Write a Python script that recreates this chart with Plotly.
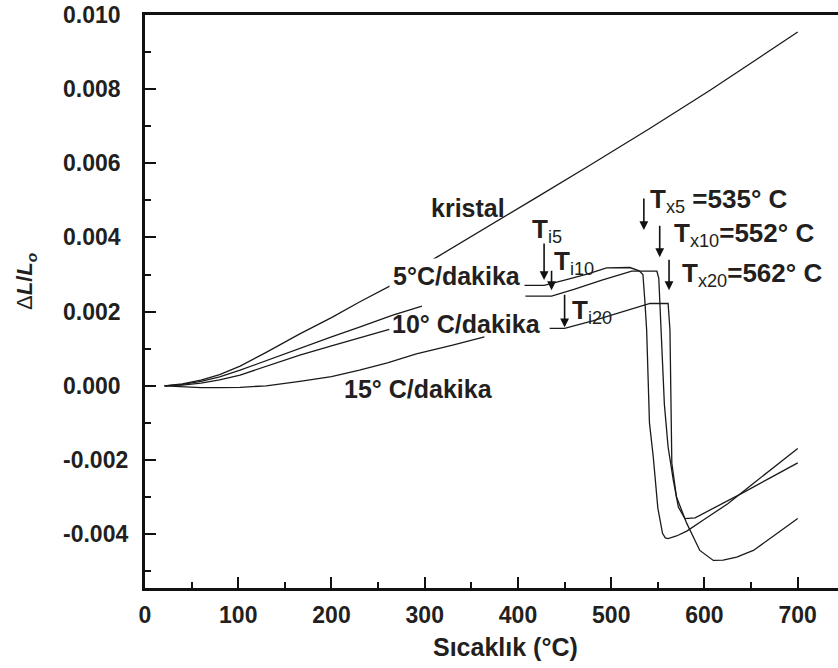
import plotly.graph_objects as go

# Dilatometer traces: relative length change vs temperature
kristal_T = [21, 40, 60, 80, 102, 130, 166, 200, 230, 265, 313, 370, 420, 474, 540, 606, 650, 700]
kristal_dL = [0.0, 0.00005, 0.00015, 0.0003, 0.00053, 0.0009, 0.00140, 0.00184, 0.00226, 0.00272,
              0.00347, 0.00432, 0.00508, 0.00590, 0.00692, 0.00797, 0.00870, 0.00954]

r5_T = [21, 40, 60, 80, 102, 130, 166, 200, 230, 265, 297, None,
        406, 428, 450, 475, 495, 520, 530, 534, 536, 538, 541, 545, 550, 555, 558, 561,
        570, 581, 600, 625, 650, 675, 700]
r5_dL = [0.0, 0.00004, 0.00012, 0.00024, 0.00042, 0.00068, 0.00102, 0.00132, 0.00158, 0.00190, 0.00215, None,
         0.00271, 0.00271, 0.00285, 0.00302, 0.00318, 0.00319, 0.00310, 0.00300, 0.00231, 0.00150, -0.0010,
         -0.00190, -0.00330, -0.00398, -0.00410, -0.00412,
         -0.00405, -0.00392, -0.00360, -0.00318, -0.00268, -0.00218, -0.00169]

r10_T = [21, 40, 60, 80, 102, 130, 166, 200, 230, 262, None,
         408, 436, 460, 490, 522, 549, 551, 553.5, 557, 561, 566.6, 572, 579, 590,
         610, 640, 670, 700]
r10_dL = [0.0, 0.00002, 0.00007, 0.00016, 0.00029, 0.00052, 0.00083, 0.00108, 0.00130, 0.00152, None,
          0.00242, 0.00242, 0.00260, 0.00285, 0.00309, 0.00309, 0.00290, 0.00150, -0.0005, -0.00165,
          -0.00255, -0.00327, -0.00358, -0.00356,
          -0.00330, -0.00290, -0.00249, -0.00208]

r15_T = [21, 40, 60, 80, 102, 130, 150, 166, 200, 230, 260, 291, 330, 364, None,
         434, 450, 480, 510, 541.6, 561, 563, 565, 570, 581, 595, 609.5, 620, 634.6, 652.4,
         670.3, 700]
r15_dL = [0.0, -0.00003, -0.00005, -0.00005, -0.00004, 0.0, 0.00006, 0.00012, 0.00025, 0.00042,
          0.00062, 0.00086, 0.00110, 0.00132, None,
          0.00155, 0.00155, 0.00175, 0.00198, 0.00222, 0.00222, 0.00150, -0.00209, -0.0030,
          -0.00371, -0.00444, -0.00471, -0.00470, -0.00462, -0.00444, -0.00412, -0.00358]

# Onset (Ti) and crystallisation (Tx) markers
ti_T = [428, 436, 450]
ti_tip = [0.00285, 0.00258, 0.00158]
ti_len = [-38, -21, -34]
tx_T = [535, 552, 562]
tx_tip = [0.00420, 0.00347, 0.00258]
tx_len = [-33, -33, -32]

y_ticks = [0.010, 0.008, 0.006, 0.004, 0.002, 0.000, -0.002, -0.004]
x_ticks = [0, 100, 200, 300, 400, 500, 600, 700]

FONT = "Arial, Liberation Sans, sans-serif"
INK = "#231f20"

fig = go.Figure()
for T, d in [(kristal_T, kristal_dL), (r5_T, r5_dL), (r10_T, r10_dL), (r15_T, r15_dL)]:
    fig.add_trace(go.Scatter(x=T, y=d, mode="lines", connectgaps=False,
                             line=dict(color="#1a1a1a", width=1.3), showlegend=False,
                             hoverinfo="skip"))

ann = []

# Curve labels
def label(text, x, y, bg=None):
    a = dict(text=f"<b>{text}</b>", x=x, y=y, xref="x", yref="y", showarrow=False,
             font=dict(family=FONT, size=25, color=INK), xanchor="center", yanchor="middle")
    if bg:
        a.update(bgcolor=bg, borderpad=3)
    return a

ann.append(label("kristal", 346, 0.00479))
ann.append(label("5°C/dakika", 335, 0.00295, bg="white"))
ann.append(label("10° C/dakika", 345, 0.00168))
ann.append(label("15° C/dakika", 293, -0.00009))

# Arrows
for T, tip, ln in zip(ti_T + tx_T, ti_tip + tx_tip, ti_len + tx_len):
    ann.append(dict(x=T, y=tip, xref="x", yref="y", text="", showarrow=True, ax=0, ay=ln,
                    arrowhead=2, arrowsize=1.1, arrowwidth=1.6, arrowcolor="#111"))

def tlabel(sub, rest, x, y):
    return dict(text=f"<b>T</b><sub>{sub}</sub>" + (f"<b>{rest}</b>" if rest else ""),
                x=x, y=y, xref="x", yref="y", showarrow=False, xanchor="left", yanchor="middle",
                font=dict(family=FONT, size=26, color=INK))

ann.append(tlabel("x5", " =535° C", 539.5, 0.00500))
ann.append(tlabel("x10", "=552° C", 565, 0.00408))
ann.append(tlabel("x20", "=562° C", 574, 0.00300))
ann.append(tlabel("i5", "", 413, 0.00418))
ann.append(tlabel("i10", "", 437, 0.00332))
ann.append(tlabel("i20", "", 456, 0.00200))

# y tick labels, left aligned
for v in y_ticks:
    ann.append(dict(text=f"<b>{v:.3f}</b>", x=-0.1212, y=v, xref="paper", yref="y",
                    showarrow=False, xanchor="left", yanchor="middle",
                    font=dict(family=FONT, size=23, color=INK)))

# Axis titles
ann.append(dict(text="Δ<b><i>L</i>/<i>L</i><sub><i>o</i></sub></b>", x=-0.1717, y=0.0028,
                xref="paper", yref="y", showarrow=False, textangle=-90,
                xanchor="center", yanchor="middle", font=dict(family=FONT, size=22, color=INK)))
ann.append(dict(text="<b>Sıcaklık (°C)</b>", x=387, y=-0.1035, xref="x", yref="paper",
                showarrow=False, xanchor="center", yanchor="middle",
                font=dict(family=FONT, size=25, color=INK)))

fig.update_layout(
    width=838, height=668,
    margin=dict(l=145, r=0, t=15, b=80),
    paper_bgcolor="white", plot_bgcolor="white",
    annotations=ann,
    xaxis=dict(range=[0, 743.2], tickvals=x_ticks, ticktext=[f"<b>{v}</b>" for v in x_ticks],
               showgrid=False, zeroline=False, showline=True, linecolor="#111", linewidth=2.5,
               mirror=True, ticks="inside", ticklen=11, tickwidth=2, tickcolor="#111",
               minor=dict(tickvals=[50, 150, 250, 350, 450, 550, 650], ticks="inside", ticklen=6,
                          tickwidth=2, tickcolor="#111"),
               tickfont=dict(family=FONT, size=23, color=INK), ticklabelstandoff=5),
    yaxis=dict(range=[-0.005453, 0.010], tickvals=y_ticks, showticklabels=False,
               showgrid=False, zeroline=False, showline=True, linecolor="#111", linewidth=2.5,
               ticks="inside", ticklen=11, tickwidth=2, tickcolor="#111",
               minor=dict(tickvals=[0.009, 0.007, 0.005, 0.003, 0.001, -0.001, -0.003, -0.005],
                          ticks="inside", ticklen=6, tickwidth=2, tickcolor="#111")),
)

fig.write_html("out.html")
